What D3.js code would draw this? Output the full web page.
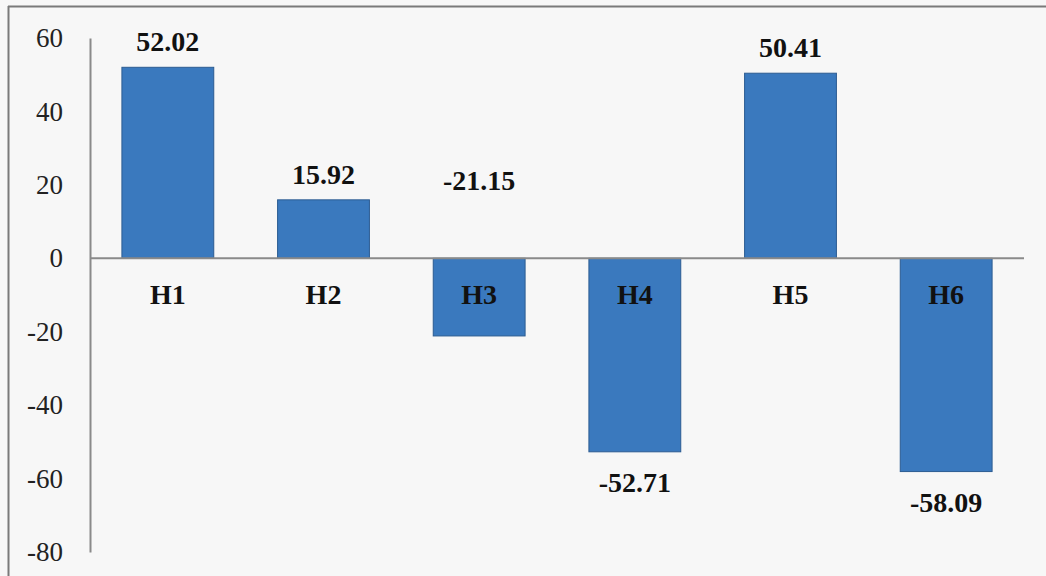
<!DOCTYPE html>
<html>
<head>
<meta charset="utf-8">
<script src="https://cdn.jsdelivr.net/npm/d3@7"></script>
<style>
  html, body { margin: 0; padding: 0; background: #f7f7f7; }
  svg { display: block; }
</style>
</head>
<body>
<svg id="chart" width="1046" height="576"></svg>
<script>
// Data
const categories = ["H1", "H2", "H3", "H4", "H5", "H6"];
const values = [52.02, 15.92, -21.15, -52.71, 50.41, -58.09];
const yTicks = [60, 40, 20, 0, -20, -40, -60, -80];

const W = 1046, H = 576;
const svg = d3.select("#chart");

svg.append("rect").attr("width", W).attr("height", H).attr("fill", "#f7f7f7");

// Frame (top and left edges)
svg.append("line").attr("x1", 8).attr("x2", W).attr("y1", 6.5).attr("y2", 6.5)
  .attr("stroke", "#7a7a7a").attr("stroke-width", 2);
svg.append("line").attr("x1", 8.5).attr("x2", 8.5).attr("y1", 6).attr("y2", H)
  .attr("stroke", "#7a7a7a").attr("stroke-width", 2);

const x = d3.scaleBand().domain(categories).range([90, 1024]).paddingInner(0.41).paddingOuter(0.205);
const y = d3.scaleLinear().domain([-80, 60]).range([552, 38]);

const serif = "Liberation Serif, Times New Roman, serif";

// Y axis (plain hyphen for negative numbers)
const yAxis = d3.axisLeft(y).tickValues(yTicks).tickSize(0).tickPadding(27).tickFormat(d => String(d));
const gy = svg.append("g").attr("transform", "translate(90,0)").call(yAxis);
gy.attr("font-family", serif).attr("font-size", 27);
gy.select(".domain").attr("stroke", "#8a8a8a").attr("stroke-width", 2);
gy.selectAll("text").attr("fill", "#222");

// Bars
svg.append("g").selectAll("rect").data(values).join("rect")
  .attr("x", (d, i) => x(categories[i]))
  .attr("width", x.bandwidth())
  .attr("y", d => y(Math.max(0, d)))
  .attr("height", d => Math.abs(y(d) - y(0)))
  .attr("fill", "#3a79be")
  .attr("stroke", "#2c5c92")
  .attr("stroke-width", 1);

// Zero line with category names
const xAxis = d3.axisBottom(x).tickSize(0).tickPadding(0);
const gx = svg.append("g").attr("transform", `translate(0,${y(0)})`).call(xAxis);
gx.attr("font-family", serif).attr("font-size", 28).attr("font-weight", "bold");
gx.select(".domain").attr("stroke", "#8a8a8a").attr("stroke-width", 2).attr("d", `M90,0H1024`);
gx.selectAll("text").attr("fill", "#111").attr("dy", null).attr("y", 46);

// Value labels
svg.append("g").attr("font-family", serif).attr("font-size", 28).attr("font-weight", "bold")
  .selectAll("text").data(values).join("text")
  .attr("x", (d, i) => x(categories[i]) + x.bandwidth() / 2)
  .attr("y", d => {
    if (d >= 0) return y(d) - 16;
    if (d > -25) return y(-d) + 9;   // short negative bar: label sits above the axis
    return y(d) + 40;
  })
  .attr("text-anchor", "middle")
  .attr("fill", "#111")
  .text(d => d.toFixed(2));
</script>
</body>
</html>
